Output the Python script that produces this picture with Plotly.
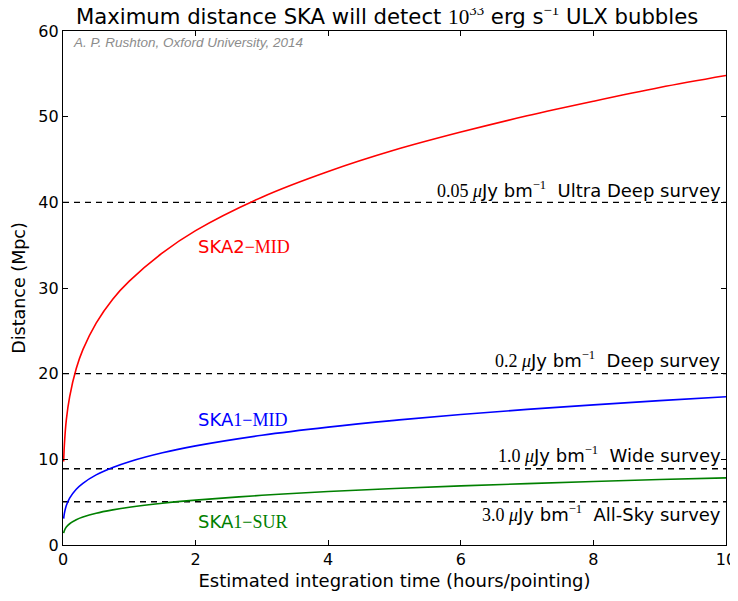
import plotly.graph_objects as go

# integration time (hours/pointing)
t_hours = [0.01, 0.02, 0.05, 0.1, 0.2, 0.3, 0.5, 0.75, 1, 1.5, 2, 3, 4, 5, 6, 7, 8, 9, 10]
# maximum distance (Mpc)
ska2_mid = [9.75, 11.6, 14.6, 17.3, 20.6, 22.8, 25.9, 28.7, 30.8, 34.1, 36.7, 40.6, 43.6, 46.1, 48.2, 50.1, 51.8, 53.4, 54.8]
ska1_mid = [3.08, 3.66, 4.60, 5.47, 6.51, 7.20, 8.18, 9.05, 9.73, 10.77, 11.57, 12.81, 13.76, 14.55, 15.23, 15.83, 16.36, 16.85, 17.30]
ska1_sur = [1.39, 1.66, 2.09, 2.48, 2.95, 3.26, 3.71, 4.10, 4.41, 4.88, 5.24, 5.80, 6.24, 6.59, 6.90, 7.17, 7.42, 7.64, 7.84]

series_sans = ["SKA2", "SKA", "SKA"]
series_serif = ["−MID", "1−MID", "1−SUR"]
series_colors = ["#ff0000", "#0000ff", "#008000"]
series_label_y = [34.8, 14.6, 2.8]

# survey depth lines
survey_levels = [40, 20, 8.9, 5.05]
survey_flux = ["0.05", "0.2", "1.0", "3.0"]
survey_names = ["Ultra Deep survey", "Deep survey", "Wide survey", "All-Sky survey"]
survey_label_y = [41.5, 21.6, 10.6, 3.7]

x_ticks = [0, 2, 4, 6, 8, 10]
y_ticks = [0, 10, 20, 30, 40, 50, 60]

SERIF = "'Liberation Serif', 'DejaVu Serif', serif"
SANS = "'DejaVu Sans', sans-serif"

fig = go.Figure()

for lvl in survey_levels:
    fig.add_trace(go.Scatter(x=[x_ticks[0], x_ticks[-1]], y=[lvl, lvl], mode="lines",
                             line=dict(color="black", width=1.3, dash="6px,5px"),
                             showlegend=False, hoverinfo="skip"))

for ys, col in zip([ska2_mid, ska1_mid, ska1_sur], series_colors):
    fig.add_trace(go.Scatter(x=t_hours, y=ys, mode="lines",
                             line=dict(color=col, width=1.6, shape="spline"),
                             showlegend=False))

annotations = []
for sans, serif, col, ly in zip(series_sans, series_serif, series_colors, series_label_y):
    annotations.append(dict(
        x=2, y=ly, xref="x", yref="y", xanchor="left", yanchor="middle", showarrow=False,
        text=f"{sans}<span style=\"font-family:{SERIF}\">{serif}</span>",
        font=dict(family=SANS, size=18, color=col)))

for flux, nm, ly in zip(survey_flux, survey_names, survey_label_y):
    annotations.append(dict(
        x=9.95, y=ly, xref="x", yref="y", xanchor="right", yanchor="middle", showarrow=False,
        text=(f"<span style=\"font-family:{SERIF}\">{flux} <i>μ</i></span>Jy bm"
              f"<sup><span style=\"font-family:{SERIF}\">−1</span></sup>  {nm}"),
        font=dict(family=SANS, size=18, color="black")))

annotations.append(dict(
    x=0.012, y=0.997, xref="paper", yref="paper", xanchor="left", yanchor="top", showarrow=False,
    text="<i>A. P. Rushton, Oxford University, 2014</i>",
    font=dict(family="'Liberation Sans', Arial, sans-serif", size=13.5, color="#8c8c8c")))

annotations.append(dict(
    x=0.5, y=1.0, xref="paper", yref="paper", xanchor="center", yanchor="bottom",
    yshift=0, xshift=-8, showarrow=False,
    text=(f"Maximum distance SKA will detect <span style=\"font-family:{SERIF}\">10<sup>33</sup></span>"
          f" erg s<sup><span style=\"font-family:{SERIF}\">−1</span></sup> ULX bubbles"),
    font=dict(family=SANS, size=21.2, color="black")))

axis_common = dict(showgrid=False, zeroline=False, showline=True, linecolor="black", linewidth=1.3,
                   mirror="ticks", ticks="inside", ticklen=5, tickwidth=1.1, tickcolor="black",
                   automargin=False,
                   tickfont=dict(family=SANS, size=16, color="black"))

# the page body adds an 8px offset, so the figure is sized/margined to compensate
fig.update_layout(
    width=730, height=593,
    paper_bgcolor="white", plot_bgcolor="white",
    margin=dict(l=55, r=12, t=23, b=56),
    annotations=annotations,
    xaxis=dict(range=[0, 10], tickvals=x_ticks,
               title=dict(text="Estimated integration time (hours/pointing)", standoff=6,
                          font=dict(family=SANS, size=18, color="black")),
               **axis_common),
    yaxis=dict(range=[0, 60], tickvals=y_ticks,
               title=dict(text="Distance (Mpc)", standoff=8,
                          font=dict(family=SANS, size=17.5, color="black")),
               **axis_common),
)

fig.write_html("out.html")
